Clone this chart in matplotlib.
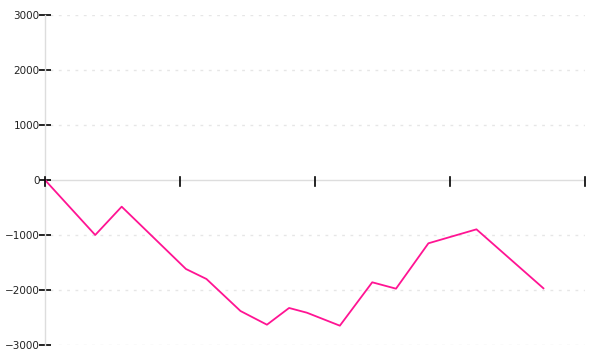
import matplotlib
matplotlib.use("Agg")
import matplotlib.pyplot as plt

# series (x on a 0..100 scale)
x_vals = [0, 9.3, 14.2, 26.1, 29.9, 36.2, 41.1, 45.2, 48.5, 54.6, 60.6, 65.0, 71.0, 79.9, 92.3]
y_vals = [0, -1000, -485, -1618, -1800, -2382, -2631, -2327, -2413, -2649, -1860, -1976, -1151, -897, -1969]

y_ticks = [-3000, -2000, -1000, 0, 1000, 2000, 3000]
x_ticks = [0, 25, 50, 75, 100]

fig = plt.figure(figsize=(6, 3.6), dpi=100)
ax = fig.add_axes([0.075, 0.0417, 0.9, 0.9166])

# grid lines (dashed, very light) except at zero
for yv in y_ticks:
    if yv != 0:
        ax.axhline(yv, xmin=0.01, color="#e6e6e6", lw=1, ls=(0, (2, 4)), zorder=0)

ax.plot(x_vals, y_vals, color="#ff1493", lw=1.3, zorder=3)

ax.set_xlim(0, 100)
ax.set_ylim(-3000, 3000)

for s in ["top", "right", "bottom"]:
    ax.spines[s].set_visible(False)
ax.spines["left"].set_color("#dddddd")
ax.spines["left"].set_linewidth(1)
ax.axhline(0, color="#dddddd", lw=1, zorder=1)

ax.set_yticks(y_ticks)
ax.set_yticklabels([str(v).replace("-", "\u2212") for v in y_ticks])
ax.tick_params(axis="y", length=8, width=1.2, color="black", direction="inout",
               labelsize=7.5, labelcolor="#222222", pad=0)

# x ticks sit on the zero line, no labels
ax.set_xticks([])
for xv in x_ticks:
    ax.plot([xv, xv], [-110, 60], color="black", lw=1.2, zorder=4, clip_on=False)

fig.savefig("out.png", dpi=100)
